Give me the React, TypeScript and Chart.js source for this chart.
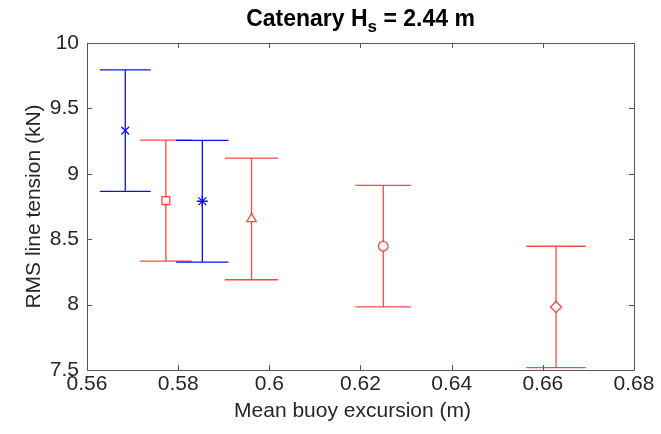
import React, { useEffect, useRef } from "react";
import { Chart, registerables } from "chart.js";

Chart.register(...registerables);

// ---- data ----
const blueExcursion = [0.5684, 0.5853];
const blueTension = [9.33, 8.79];
const blueError = [0.465, 0.465];
const blueMarkers = ["crossRot", "star"];

const redExcursion = [0.5773, 0.5961, 0.625, 0.6629];
const redTension = [8.795, 8.655, 8.447, 7.982];
const redError = [0.463, 0.465, 0.465, 0.464];
const redMarkers = ["rect", "triangle", "circle", "rectRot"];

const xTickValues = [0.56, 0.58, 0.6, 0.62, 0.64, 0.66, 0.68];
const yTickValues = [7.5, 8, 8.5, 9, 9.5, 10];

const titleMain = "Catenary H";
const titleSub = "s";
const titleRest = " = 2.44 m";
const xLabel = "Mean buoy excursion (m)";
const yLabel = "RMS line tension (kN)";

const BLUE = "rgba(0,0,255,0.95)";
const RED = "rgba(255,0,0,0.72)";
const FONT = "'Liberation Sans', Arial, Helvetica, sans-serif";
const AXIS_COLOR = "#555555";
const TEXT_COLOR = "#262626";

const markerRadius: Record<string, number> = {
  crossRot: 5.5,
  star: 5.5,
  rect: 5.5,
  triangle: 5.5,
  circle: 4.8,
  rectRot: 5.5,
};

const errorBarPlugin = {
  id: "errorBars",
  beforeDatasetsDraw(chart: any) {
    const ctx = chart.ctx;
    const xs = chart.scales.x;
    const ys = chart.scales.y;
    chart.data.datasets.forEach((ds: any) => {
      const errs: number[] = ds.errors;
      ctx.save();
      ctx.strokeStyle = ds.borderColor;
      ctx.lineWidth = 1.3;
      ds.data.forEach((p: any, i: number) => {
        const px = xs.getPixelForValue(p.x);
        const capHalf = p.x * 0.0098; // cap width proportional to x (MATLAB style)
        const l = xs.getPixelForValue(p.x - capHalf);
        const r = xs.getPixelForValue(p.x + capHalf);
        const top = ys.getPixelForValue(p.y + errs[i]);
        const bot = ys.getPixelForValue(p.y - errs[i]);
        ctx.beginPath();
        ctx.moveTo(px, top);
        ctx.lineTo(px, bot);
        ctx.moveTo(l, top);
        ctx.lineTo(r, top);
        ctx.moveTo(l, bot);
        ctx.lineTo(r, bot);
        ctx.stroke();
      });
      ctx.restore();
    });
  },
};

const boxPlugin = {
  id: "boxTicks",
  afterDraw(chart: any) {
    const ctx = chart.ctx;
    const a = chart.chartArea;
    const xs = chart.scales.x;
    const ys = chart.scales.y;
    const tl = 5;
    ctx.save();
    ctx.strokeStyle = AXIS_COLOR;
    ctx.lineWidth = 1;
    ctx.beginPath();
    ctx.rect(Math.round(a.left) + 0.5, Math.round(a.top) + 0.5, Math.round(a.right - a.left), Math.round(a.bottom - a.top));
    xTickValues.forEach((v) => {
      const x = Math.round(xs.getPixelForValue(v)) + 0.5;
      ctx.moveTo(x, a.bottom);
      ctx.lineTo(x, a.bottom - tl);
      ctx.moveTo(x, a.top);
      ctx.lineTo(x, a.top + tl);
    });
    yTickValues.forEach((v) => {
      const y = Math.round(ys.getPixelForValue(v)) + 0.5;
      ctx.moveTo(a.left, y);
      ctx.lineTo(a.left + tl, y);
      ctx.moveTo(a.right, y);
      ctx.lineTo(a.right - tl, y);
    });
    ctx.stroke();

    // x axis label
    ctx.fillStyle = TEXT_COLOR;
    ctx.font = `21px ${FONT}`;
    ctx.textAlign = "center";
    ctx.textBaseline = "middle";
    ctx.fillText(xLabel, (a.left + a.right) / 2 - 8, 411);

    // title with subscript
    const mainFont = `bold 23px ${FONT}`;
    const subFont = `bold 17px ${FONT}`;
    ctx.fillStyle = "#000";
    ctx.textBaseline = "alphabetic";
    ctx.textAlign = "left";
    ctx.font = mainFont;
    const w1 = ctx.measureText(titleMain).width;
    const w3 = ctx.measureText(titleRest).width;
    ctx.font = subFont;
    const w2 = ctx.measureText(titleSub).width;
    const total = w1 + w2 + w3;
    let x = (a.left + a.right) / 2 - total / 2;
    const base = 26;
    ctx.font = mainFont;
    ctx.fillText(titleMain, x, base);
    x += w1;
    ctx.font = subFont;
    ctx.fillText(titleSub, x, base + 6);
    x += w2;
    ctx.font = mainFont;
    ctx.fillText(titleRest, x, base);
    ctx.restore();
  },
};

export default function App() {
  const ref = useRef<HTMLCanvasElement | null>(null);

  useEffect(() => {
    if (!ref.current) return;
    const mk = (xs: number[], ys: number[]) => xs.map((x, i) => ({ x, y: ys[i] }));
    const chart = new Chart(ref.current, {
      type: "scatter",
      data: {
        datasets: [
          {
            label: "red",
            data: mk(redExcursion, redTension),
            errors: redError,
            borderColor: RED,
            backgroundColor: "#fff",
            pointStyle: redMarkers as any,
            pointRadius: redMarkers.map((m) => markerRadius[m]),
            pointBorderWidth: 1.3,
            pointBackgroundColor: "rgba(255,255,255,1)",
            pointBorderColor: RED,
          } as any,
          {
            label: "blue",
            data: mk(blueExcursion, blueTension),
            errors: blueError,
            borderColor: BLUE,
            backgroundColor: "#fff",
            pointStyle: blueMarkers as any,
            pointRadius: blueMarkers.map((m) => markerRadius[m]),
            pointBorderWidth: 1.3,
            pointBorderColor: BLUE,
          } as any,
        ],
      },
      options: {
        responsive: false,
        animation: false,
        events: [],
        layout: { padding: { left: 0, right: 27, top: 43, bottom: 0 } },
        plugins: {
          legend: { display: false },
          title: { display: false },
          tooltip: { enabled: false },
        },
        scales: {
          x: {
            type: "linear",
            min: 0.56,
            max: 0.68,
            grid: { display: false, drawTicks: false },
            border: { display: false },
            afterBuildTicks: (s: any) => {
              s.ticks = xTickValues.map((v) => ({ value: v }));
            },
            afterFit: (s: any) => {
              s.height = 64;
              s.paddingLeft = 0;
              s.paddingRight = 0;
            },
            ticks: {
              autoSkip: false,
              maxRotation: 0,
              padding: 2,
              color: TEXT_COLOR,
              font: { family: FONT, size: 21 },
              callback: (v: any) => String(v),
            },
            title: { display: false },
          },
          y: {
            type: "linear",
            min: 7.5,
            max: 10,
            grid: { display: false, drawTicks: false },
            border: { display: false },
            afterBuildTicks: (s: any) => {
              s.ticks = yTickValues.map((v) => ({ value: v }));
            },
            afterFit: (s: any) => {
              s.width = 87;
              s.paddingTop = 0;
              s.paddingBottom = 0;
            },
            ticks: {
              autoSkip: false,
              padding: 8,
              color: TEXT_COLOR,
              font: { family: FONT, size: 21 },
              callback: (v: any) => String(v),
            },
            title: {
              display: true,
              text: yLabel,
              color: TEXT_COLOR,
              font: { family: FONT, size: 21 },
              padding: { top: 22, bottom: 0 },
            },
          },
        },
      },
      plugins: [errorBarPlugin, boxPlugin],
    } as any);
    return () => chart.destroy();
  }, []);

  return (
    <div style={{ position: "absolute", left: 0, top: 0, width: 661, height: 434, background: "#fff" }}>
      <canvas ref={ref} width={661} height={434} style={{ width: 661, height: 434, display: "block" }} />
    </div>
  );
}
